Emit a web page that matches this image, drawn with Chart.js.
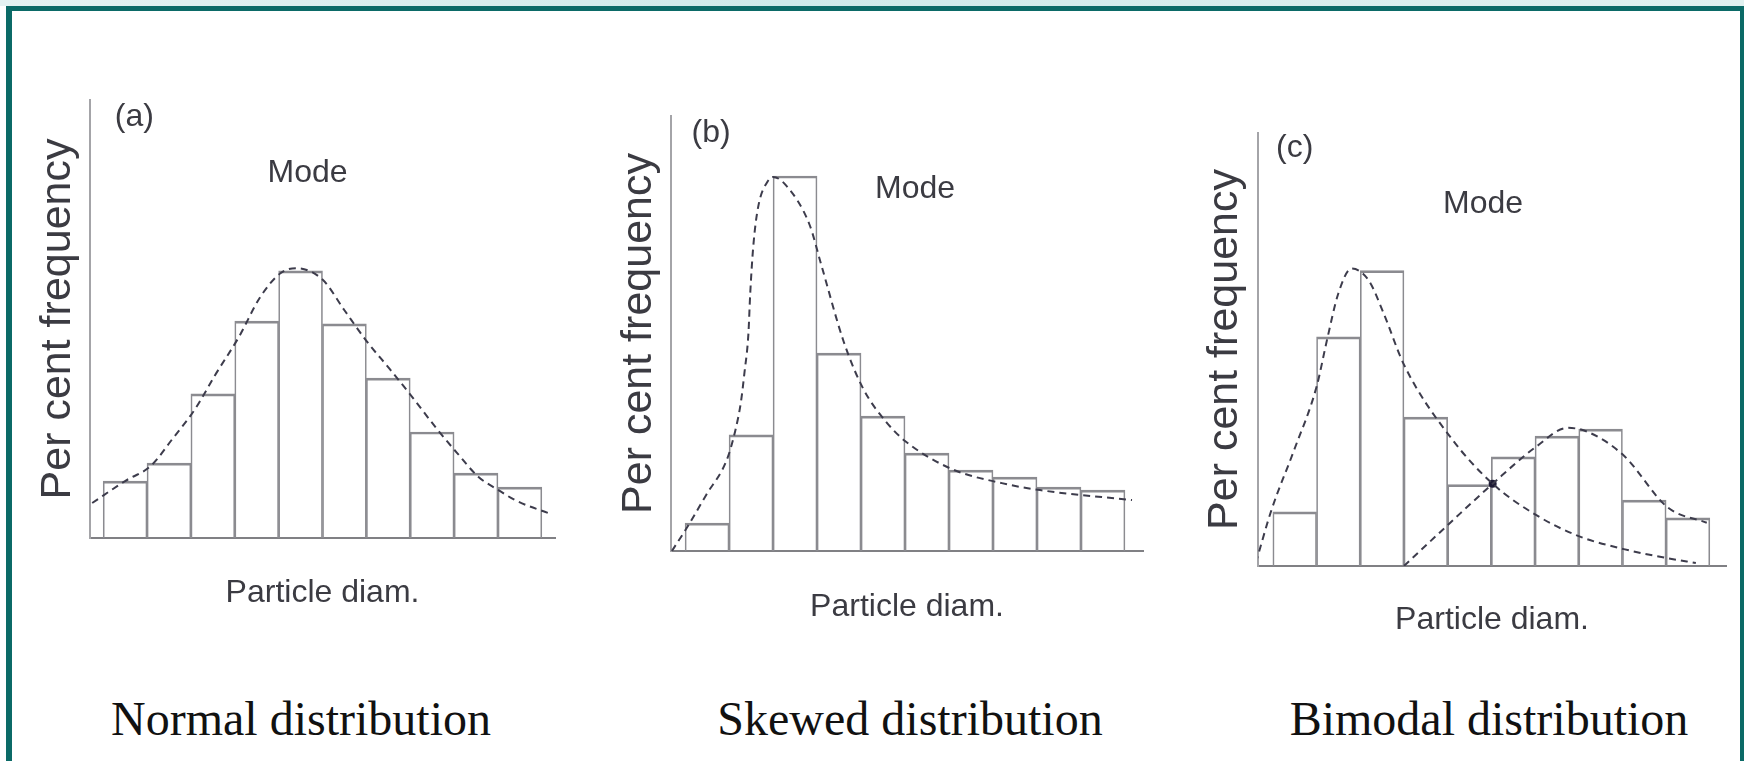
<!DOCTYPE html>
<html>
<head>
<meta charset="utf-8">
<title>Particle size distributions</title>
<script src="https://cdn.jsdelivr.net/npm/chart.js@4.4.1/dist/chart.umd.min.js"></script>
<style>
  body { margin: 0; width: 1744px; height: 761px; background: #fff; position: relative; overflow: hidden; }
  #strip { position: absolute; left: 0; top: 0; width: 1744px; height: 6px;
           background: linear-gradient(to right, #e4f2f2, #cfeaea 45%, #e0f1f0); }
  #frame { position: absolute; left: 6px; top: 6px; width: 1728px; height: 800px;
           border-left: 6px solid #0b6a67; border-top: 5px solid #0b6a67; border-right: 4px solid #0b6a67; }
  canvas { position: absolute; }
  .caption { position: absolute; width: 600px; text-align: center; color: #111;
             font: 48px "Liberation Serif", "DejaVu Serif", serif; line-height: 48px; }
</style>
</head>
<body>
<div id="strip"></div>
<div id="frame"></div>

<script>
// bin centres on the particle diameter axis (bin edges are 0..10)
const bins = [0.5, 1.5, 2.5, 3.5, 4.5, 5.5, 6.5, 7.5, 8.5, 9.5];

// per cent frequency of each bin (axis top = 100)
const normalBars  = [13.0, 17.1, 32.9, 49.5, 61.0, 48.9, 36.5, 24.2, 14.8, 11.6];
const skewedBars  = [6.4, 26.7, 86.2, 45.5, 31.0, 22.5, 18.6, 17.0, 14.7, 14.0];
const bimodalBars = [12.5, 52.9, 68.2, 34.4, 18.8, 25.2, 30.0, 31.6, 15.2, 11.1];

// dashed fitted curves, [diameter, frequency]
const normalCurve = [[-0.25, 8], [0.5, 13], [1.09, 16.5], [1.57, 22.5], [2.1, 29.5], [2.54, 37],
  [3.1, 46], [3.58, 55], [4.05, 60.5], [4.4, 61.6], [5.0, 59], [5.5, 52], [6.0, 45], [6.54, 38.5],
  [7.06, 32], [7.6, 25], [8.06, 19.5], [8.55, 14], [9.0, 11], [9.42, 8.5], [10.2, 5.5]];
const skewedCurve = [[-0.3, 0], [0.05, 5.5], [0.48, 12.9], [0.95, 21], [1.14, 27.6], [1.27, 34.3],
  [1.35, 41], [1.44, 50], [1.48, 59], [1.55, 70], [1.66, 79], [1.88, 85], [2.0, 86], [2.3, 84],
  [2.83, 75], [3.09, 66], [3.61, 48], [4.05, 37.3], [4.57, 29.7], [5.0, 25.3], [6.05, 18.9],
  [7.2, 15.6], [8.07, 14], [10.16, 11.7]];
const bimodalCurveFine = [[-0.39, 0.7], [-0.03, 13], [0.48, 26.6], [1.0, 41.4], [1.25, 52.7],
  [1.5, 63], [1.8, 68.7], [2.19, 66], [2.53, 58.5], [3.0, 46.5], [4.06, 29.8], [5.03, 19],
  [6.02, 11.8], [7.0, 6.9], [8.03, 3.9], [9.04, 1.8], [9.68, 0.7]];
const bimodalCurveCoarse = [[3.0, 0], [4.06, 10], [5.03, 19], [6.02, 27.5], [6.75, 31.9],
  [7.2, 31], [8.03, 25.5], [9.04, 13.5], [9.93, 10]];
const bimodalCrossing = [[5.03, 19]];

const panelTags = ['(a)', '(b)', '(c)'];
const captions = ['Normal distribution', 'Skewed distribution', 'Bimodal distribution'];
const xTitle = 'Particle diam.';
const yTitle = 'Per cent frequency';

const textColour = '#3b3b42';
const sans = '"Liberation Sans", Arial, sans-serif';
const xFont = 32;
const yFont = 43;

// where each panel sits on the page
const panels = [
  { left: 90, right: 555, top: 100, base: 538, xMin: -0.30, xMax: 10.30, dx: 32, dy: 55,
    bars: normalBars, curves: [normalCurve], marks: [],
    tagAt: [0.71, 96], modeAt: [4.66, 83.4], captionX: 301 },
  { left: 671, right: 1143, top: 116, base: 551, xMin: -0.32, xMax: 10.41, dx: 32, dy: 56,
    bars: skewedBars, curves: [skewedCurve], marks: [],
    tagAt: [0.59, 96], modeAt: [5.23, 83.1], captionX: 910 },
  { left: 1258, right: 1726, top: 133, base: 566, xMin: -0.34, xMax: 10.37, dx: 33, dy: 54,
    bars: bimodalBars, curves: [bimodalCurveFine, bimodalCurveCoarse], marks: bimodalCrossing,
    tagAt: [0.5, 96.5], modeAt: [4.81, 83.6], captionX: 1489 }
];

const panelText = {
  id: 'panelText',
  afterDraw(chart, args, opts) {
    const {ctx, scales: {x, y}} = chart;
    ctx.save();
    ctx.font = '32px ' + sans;
    ctx.fillStyle = textColour;
    ctx.textAlign = 'center';
    ctx.textBaseline = 'middle';
    opts.items.forEach(t => ctx.fillText(t.text, x.getPixelForValue(t.x), y.getPixelForValue(t.y)));
    ctx.restore();
  }
};

panels.forEach((p, i) => {
  const cv = document.createElement('canvas');
  const w = p.right - p.left + 110;
  const h = p.base - p.top + 110;
  cv.width = w;
  cv.height = h;
  cv.style.left = (p.left - 80) + 'px';
  cv.style.top = (p.top - 30) + 'px';
  document.body.appendChild(cv);

  const datasets = [{
    type: 'bar',
    data: p.bars.map((v, k) => ({x: bins[k], y: v})),
    backgroundColor: 'rgba(255,255,255,0)',
    borderColor: '#8b8b90',
    borderWidth: {top: 2, left: 1, right: 1, bottom: 0},
    categoryPercentage: 1,
    barPercentage: 1,
    order: 2
  }];
  p.curves.forEach(c => datasets.push({
    type: 'line',
    data: c.map(([x, y]) => ({x, y})),
    borderColor: '#3d3c4c',
    borderWidth: 2,
    borderDash: [7, 5],
    pointRadius: 0,
    fill: false,
    cubicInterpolationMode: 'monotone',
    order: 0
  }));
  if (p.marks.length) datasets.push({
    type: 'line',
    data: p.marks.map(([x, y]) => ({x, y})),
    showLine: false,
    pointRadius: 4,
    pointBackgroundColor: '#1d1a35',
    pointBorderWidth: 0,
    order: 0
  });

  const yScaleWidth = p.dx + yFont / 2 + 4;
  const xScaleHeight = p.dy + xFont / 2 + 2;

  new Chart(cv, {
    type: 'bar',
    data: {datasets},
    options: {
      responsive: false,
      animation: false,
      events: [],
      layout: {
        autoPadding: false,
        padding: {left: 80 - yScaleWidth, top: 30, right: 30, bottom: h - (p.base - p.top) - 30 - xScaleHeight}
      },
      plugins: {
        legend: {display: false},
        tooltip: {enabled: false},
        panelText: {items: [
          {text: panelTags[i], x: p.tagAt[0], y: p.tagAt[1]},
          {text: 'Mode', x: p.modeAt[0], y: p.modeAt[1]}
        ]}
      },
      scales: {
        x: {
          type: 'linear', min: p.xMin, max: p.xMax, offset: false,
          grid: {display: false, drawTicks: false},
          ticks: {display: false},
          afterBuildTicks: a => { a.ticks = bins.map(v => ({value: v})); },
          border: {display: true, color: '#808084', width: 2},
          title: {display: true, text: xTitle, color: textColour,
                  font: {family: sans, size: xFont, lineHeight: 1},
                  padding: {top: p.dy - xFont / 2, bottom: 2}}
        },
        y: {
          type: 'linear', min: 0, max: 100,
          grid: {display: false, drawTicks: false},
          ticks: {display: false},
          border: {display: true, color: '#a4a4a8', width: 2},
          title: {display: true, text: yTitle, color: textColour,
                  font: {family: sans, size: yFont, lineHeight: 1},
                  padding: {top: 4, bottom: p.dx - yFont / 2}}
        }
      }
    },
    plugins: [panelText]
  });

  const cap = document.createElement('div');
  cap.className = 'caption';
  cap.textContent = captions[i];
  cap.style.left = (p.captionX - 300) + 'px';
  cap.style.top = '695px';
  document.body.appendChild(cap);
});
</script>
</body>
</html>
